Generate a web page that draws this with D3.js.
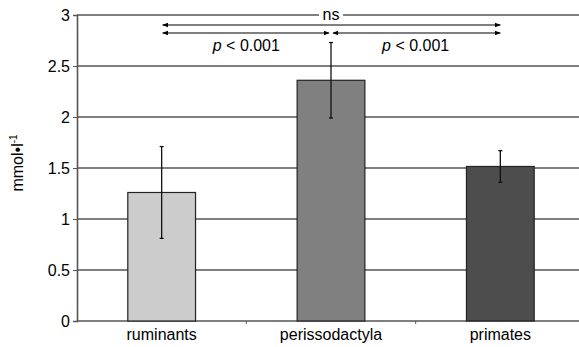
<!DOCTYPE html>
<html><head><meta charset="utf-8">
<script src="https://cdn.jsdelivr.net/npm/d3@7"></script>
<style>body{margin:0;background:#fff}svg{display:block;font-family:"Liberation Sans",Arial,sans-serif}</style>
</head><body>
<svg id="c" width="579" height="347"></svg>
<script>
const categories = ["ruminants", "perissodactyla", "primates"];
const values = [1.26, 2.36, 1.515];
const errors = [0.45, 0.37, 0.155];
const colors = ["#cccccc", "#808080", "#4d4d4d"];
const yTicks = [0, 0.5, 1, 1.5, 2, 2.5, 3];
const yTickLabels = ["0", "0.5", "1", "1.5", "2", "2.5", "3"];

(function () {
const svg = d3.select("#c");
const FS = 16;
const pLeft = 77, pRight = 585, pTop = 15, pBottom = 321;
const x = d3.scaleBand().domain(categories).range([pLeft, pRight]).paddingInner(0.6).paddingOuter(0.3);
const y = d3.scaleLinear().domain([0, 3]).range([pBottom, pTop]);

// gridlines
svg.append("g").selectAll("line").data(yTicks.slice(1)).join("line")
  .attr("x1", pLeft).attr("x2", 579).attr("y1", d => y(d)).attr("y2", d => y(d))
  .attr("stroke", "#000").attr("stroke-width", 1.2);

// y axis
const ya = svg.append("g").attr("transform", `translate(${pLeft},0)`)
  .call(d3.axisLeft(y).tickValues(yTicks).tickFormat((d, i) => yTickLabels[i]).tickSize(4).tickPadding(3));
ya.select(".domain").attr("stroke", "#555").attr("stroke-width", 1.6);
ya.selectAll(".tick line").attr("stroke", "#555");
ya.selectAll("text").attr("font-size", FS).attr("font-family", "Liberation Sans, Arial, sans-serif").attr("fill", "#000");

// x axis
const xa = svg.append("g").attr("transform", `translate(0,${pBottom})`)
  .call(d3.axisBottom(x).tickSize(0).tickPadding(8));
xa.select(".domain").attr("stroke", "#555").attr("stroke-width", 1.6).attr("d", `M${pLeft},0H579`);
xa.selectAll("text").attr("font-size", FS).attr("font-family", "Liberation Sans, Arial, sans-serif").attr("fill", "#000");
const step = x.step();
svg.append("g").selectAll("line").data(categories.slice(0, -1)).join("line")
  .attr("x1", d => x(d) + x.bandwidth() / 2 + step / 2).attr("x2", d => x(d) + x.bandwidth() / 2 + step / 2)
  .attr("y1", pBottom).attr("y2", pBottom + 3).attr("stroke", "#555");

// bars
svg.append("g").selectAll("rect").data(categories).join("rect")
  .attr("x", d => x(d)).attr("width", x.bandwidth())
  .attr("y", (d, i) => y(values[i])).attr("height", (d, i) => pBottom - y(values[i]))
  .attr("fill", (d, i) => colors[i]).attr("stroke", "#222").attr("stroke-width", 1.2);

// error bars
const eb = svg.append("g").attr("stroke", "#111");
categories.forEach((c, i) => {
  const cx = x(c) + x.bandwidth() / 2;
  eb.append("line").attr("x1", cx).attr("x2", cx).attr("y1", y(values[i] + errors[i])).attr("y2", y(values[i] - errors[i])).attr("stroke-width", 1.3);
  [values[i] + errors[i], values[i] - errors[i]].forEach(v => {
    eb.append("line").attr("x1", cx - 2).attr("x2", cx + 2).attr("y1", y(v)).attr("y2", y(v)).attr("stroke-width", 1.3);
  });
});

// significance arrows
const defs = svg.append("defs");
defs.append("marker").attr("id", "ah").attr("viewBox", "0 0 10 10").attr("refX", 9).attr("refY", 5)
  .attr("markerWidth", 6).attr("markerHeight", 6).attr("orient", "auto-start-reverse").attr("markerUnits", "userSpaceOnUse")
  .append("path").attr("d", "M0,1L10,5L0,9Z").attr("fill", "#000");
const c0 = x(categories[0]) + x.bandwidth() / 2;
const c1 = x(categories[1]) + x.bandwidth() / 2;
const c2 = x(categories[2]) + x.bandwidth() / 2;
const sig = svg.append("g").attr("stroke", "#000").attr("stroke-width", 1.1);
sig.append("line").attr("x1", c0 + 1).attr("x2", c2).attr("y1", 25).attr("y2", 25)
  .attr("marker-start", "url(#ah)").attr("marker-end", "url(#ah)");
sig.append("line").attr("x1", c0 + 1).attr("x2", c1 - 2).attr("y1", 33).attr("y2", 33)
  .attr("marker-start", "url(#ah)").attr("marker-end", "url(#ah)");
sig.append("line").attr("x1", c1 + 2).attr("x2", c2).attr("y1", 33).attr("y2", 33)
  .attr("marker-start", "url(#ah)").attr("marker-end", "url(#ah)");

// ns label with white background
const nsX = (c0 + c2) / 2;
svg.append("rect").attr("x", nsX - 12).attr("y", 7).attr("width", 24).attr("height", 14).attr("fill", "#fff");
svg.append("text").attr("x", nsX).attr("y", 20).attr("text-anchor", "middle").attr("font-size", FS).text("ns");

// p labels
[[c0, c1], [c1, c2]].forEach(([a, b]) => {
  const t = svg.append("text").attr("x", (a + b) / 2).attr("y", 51).attr("text-anchor", "middle").attr("font-size", FS);
  t.append("tspan").attr("font-style", "italic").text("p");
  t.append("tspan").text(" < 0.001");
});

// y label
const yl = svg.append("text").attr("transform", "translate(23,163) rotate(-90)").attr("text-anchor", "middle").attr("font-size", FS);
yl.append("tspan").text("mmol•l");
yl.append("tspan").attr("font-size", 10).attr("dy", -6).text("-1");
})();
</script>
</body></html>
